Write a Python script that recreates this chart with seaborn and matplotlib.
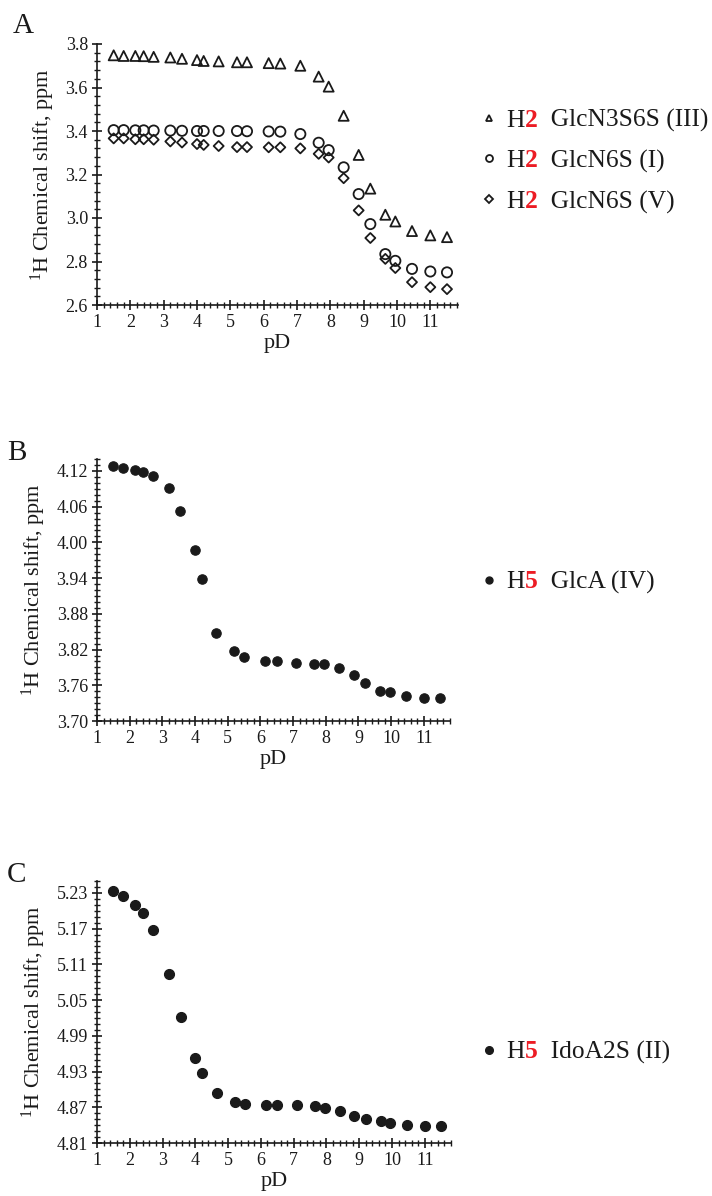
import numpy as np
import pandas as pd
import matplotlib
matplotlib.use("Agg")
import matplotlib.pyplot as plt
import seaborn as sns
from matplotlib.lines import Line2D
from matplotlib.ticker import MultipleLocator, FixedLocator, FormatStrFormatter

# ---------------- data ----------------
pD = [1.5, 1.8, 2.15, 2.4, 2.7, 3.2, 3.55, 4.0, 4.2, 4.65, 5.2, 5.5, 6.15, 6.5,
      7.1, 7.65, 7.95, 8.4, 8.85, 9.2, 9.65, 9.95, 10.45, 11.0, 11.5]

h2_glcn3s6s_III = [3.748, 3.745, 3.745, 3.744, 3.741, 3.738, 3.732, 3.726, 3.722, 3.720,
                   3.716, 3.716, 3.712, 3.710, 3.700, 3.650, 3.604, 3.470, 3.290, 3.135,
                   3.015, 2.984, 2.940, 2.920, 2.912]
h2_glcn6s_I = [3.404, 3.404, 3.403, 3.403, 3.402, 3.402, 3.401, 3.400, 3.400, 3.400,
               3.400, 3.399, 3.398, 3.397, 3.386, 3.346, 3.312, 3.233, 3.110, 2.972,
               2.834, 2.803, 2.766, 2.754, 2.750]
h2_glcn6s_V = [3.366, 3.366, 3.362, 3.362, 3.360, 3.352, 3.347, 3.340, 3.336, 3.331,
               3.326, 3.326, 3.325, 3.325, 3.320, 3.295, 3.278, 3.183, 3.035, 2.908,
               2.812, 2.770, 2.705, 2.682, 2.673]
h5_glca_IV = [4.128, 4.125, 4.122, 4.118, 4.112, 4.091, 4.052, 3.987, 3.939, 3.847,
              3.817, 3.808, 3.800, 3.800, 3.798, 3.795, 3.795, 3.789, 3.777, 3.764,
              3.750, 3.748, 3.742, 3.739, 3.738]
h5_idoa2s_II = [5.234, 5.224, 5.210, 5.197, 5.167, 5.093, 5.022, 4.953, 4.928, 4.894,
                4.879, 4.876, 4.873, 4.873, 4.873, 4.872, 4.869, 4.864, 4.856, 4.850,
                4.847, 4.843, 4.841, 4.839, 4.839]

xticks = [1, 2, 3, 4, 5, 6, 7, 8, 9, 10, 11]
yticks_A = [2.6, 2.8, 3.0, 3.2, 3.4, 3.6, 3.8]
yticks_B = [3.70, 3.76, 3.82, 3.88, 3.94, 4.00, 4.06, 4.12]
yticks_C = [4.81, 4.87, 4.93, 4.99, 5.05, 5.11, 5.17, 5.23]

legend_A = [("H", "2", "GlcN3S6S (III)"), ("H", "2", "GlcN6S (I)"), ("H", "2", "GlcN6S (V)")]
legend_B = [("H", "5", "GlcA (IV)")]
legend_C = [("H", "5", "IdoA2S (II)")]

xlabel = "pD"
ylabel = r"$^{1}$H Chemical shift, ppm"

# ---------------- style ----------------
sns.set_style("ticks")
plt.rcParams["font.family"] = ["Liberation Serif", "DejaVu Serif"]
plt.rcParams["mathtext.fontset"] = "custom"
plt.rcParams["mathtext.rm"] = "Liberation Serif"
plt.rcParams["mathtext.it"] = "Liberation Serif:italic"
plt.rcParams["mathtext.bf"] = "Liberation Serif:bold"

INK = "#1a1a1a"
RED = "#ec1c24"
W, H = 712, 1196
LFS = 18.4

fig = plt.figure(figsize=(W / 100, H / 100), dpi=100)
fig.patch.set_facecolor("white")


def px_axes(left, top, right, bottom):
    return fig.add_axes([left / W, 1 - bottom / H, (right - left) / W, (bottom - top) / H])


def style_axes(ax, ylim, yticks, yfmt, yminor, xmax):
    sns.despine(ax=ax)
    ax.set_xlim(1, xmax)
    ax.set_ylim(*ylim)
    ax.xaxis.set_major_locator(FixedLocator(xticks))
    ax.xaxis.set_minor_locator(MultipleLocator(0.2))
    ax.yaxis.set_major_locator(FixedLocator(yticks))
    ax.yaxis.set_major_formatter(FormatStrFormatter(yfmt))
    ax.yaxis.set_minor_locator(MultipleLocator(yminor))
    for s in ("left", "bottom"):
        ax.spines[s].set_linewidth(1.2)
        ax.spines[s].set_color(INK)
    ax.tick_params(which="major", direction="inout", length=7, width=1.2,
                   colors=INK, labelsize=13, pad=3)
    ax.tick_params(which="minor", direction="inout", length=4, width=1.0, colors=INK)
    ax.set_xlabel(xlabel, fontsize=16, color=INK, labelpad=2)
    ax.set_ylabel(ylabel, fontsize=16, color=INK, labelpad=6)
    ax.set_facecolor("white")
    ax.grid(False)


legends = []


def add_legend(ax, handles, entries, y_center_px, spacing):
    leg = fig.legend(handles, [e[0] for e in entries], loc="center left",
                     bbox_to_anchor=(481 / W, 1 - y_center_px / H),
                     frameon=False, fontsize=LFS, handlelength=0.6,
                     handletextpad=0.4, labelspacing=spacing, borderpad=0,
                     borderaxespad=0)
    for t in leg.get_texts():
        t.set_color(INK)
    legends.append((ax, leg, entries))


# ---------------- Panel A ----------------
axA = px_axes(97, 44, 458, 305)
dfA = pd.DataFrame({"pD": pD, "III": h2_glcn3s6s_III, "I": h2_glcn6s_I, "V": h2_glcn6s_V})
sns.scatterplot(data=dfA, x="pD", y="III", marker="^", s=52, facecolors="none",
                edgecolor=INK, linewidth=1.3, ax=axA, legend=False, zorder=3)
sns.scatterplot(data=dfA, x="pD", y="I", marker="o", s=54, facecolors="none",
                edgecolor=INK, linewidth=1.3, ax=axA, legend=False, zorder=3)
sns.scatterplot(data=dfA, x="pD", y="V", marker="D", s=26, facecolors="none",
                edgecolor=INK, linewidth=1.3, ax=axA, legend=False, zorder=3)
style_axes(axA, (2.6, 3.8), yticks_A, "%.1f", 0.04, 11.83)

hA = [Line2D([], [], ls="none", marker="^", ms=5, mfc="none", mec=INK, mew=1.3),
      Line2D([], [], ls="none", marker="o", ms=5, mfc="none", mec=INK, mew=1.3),
      Line2D([], [], ls="none", marker="D", ms=3.8, mfc="none", mec=INK, mew=1.3)]
add_legend(axA, hA, legend_A, 161, 0.7)

# ---------------- Panel B ----------------
axB = px_axes(97, 459, 450, 721)
dfB = pd.DataFrame({"pD": pD, "IV": h5_glca_IV})
sns.scatterplot(data=dfB, x="pD", y="IV", marker="o", s=46, color=INK,
                edgecolor=INK, linewidth=0.8, ax=axB, legend=False, zorder=3)
style_axes(axB, (3.70, 4.14), yticks_B, "%.2f", 0.01, 11.8)
hB = [Line2D([], [], ls="none", marker="o", ms=5, mfc=INK, mec=INK)]
add_legend(axB, hB, legend_B, 582, 0.7)

# ---------------- Panel C ----------------
axC = px_axes(97, 881, 451, 1143)
dfC = pd.DataFrame({"pD": pD, "II": h5_idoa2s_II})
sns.scatterplot(data=dfC, x="pD", y="II", marker="o", s=52, color=INK,
                edgecolor=INK, linewidth=0.8, ax=axC, legend=False, zorder=3)
style_axes(axC, (4.81, 5.25), yticks_C, "%.2f", 0.01, 11.8)
hC = [Line2D([], [], ls="none", marker="o", ms=5.5, mfc=INK, mec=INK)]
add_legend(axC, hC, legend_C, 1052, 0.7)

# ---------------- Panel letters ----------------
fig.text(13 / W, 1 - 33 / H, "A", fontsize=21, color=INK, va="baseline", ha="left")
fig.text(7 / W, 1 - 460 / H, "B", fontsize=21, color=INK, va="baseline", ha="left")
fig.text(7 / W, 1 - 882 / H, "C", fontsize=21, color=INK, va="baseline", ha="left")

# ---------------- coloured numbers + rest of legend labels ----------------
fig.canvas.draw()
renderer = fig.canvas.get_renderer()
pending = []
for ax, leg, entries in legends:
    for t, (_, num, rest) in zip(leg.get_texts(), entries):
        bb = t.get_window_extent(renderer)
        _, _, lp_d = renderer.get_text_width_height_descent(
            "lp", t.get_fontproperties(), ismath=False)
        base = bb.y0 + lp_d
        a2 = ax.annotate(num, xy=(bb.x1, base), xycoords="figure pixels",
                         va="baseline", ha="left", color=RED, fontsize=LFS,
                         fontweight="bold", annotation_clip=False)
        pending.append((ax, a2, base, rest))

fig.canvas.draw()
for ax, a2, base, rest in pending:
    x1 = a2.get_window_extent(renderer).x1
    ax.annotate("  " + rest, xy=(x1, base), xycoords="figure pixels",
                va="baseline", ha="left", color=INK, fontsize=LFS,
                annotation_clip=False)

fig.savefig("out.png", dpi=100, facecolor="white")
